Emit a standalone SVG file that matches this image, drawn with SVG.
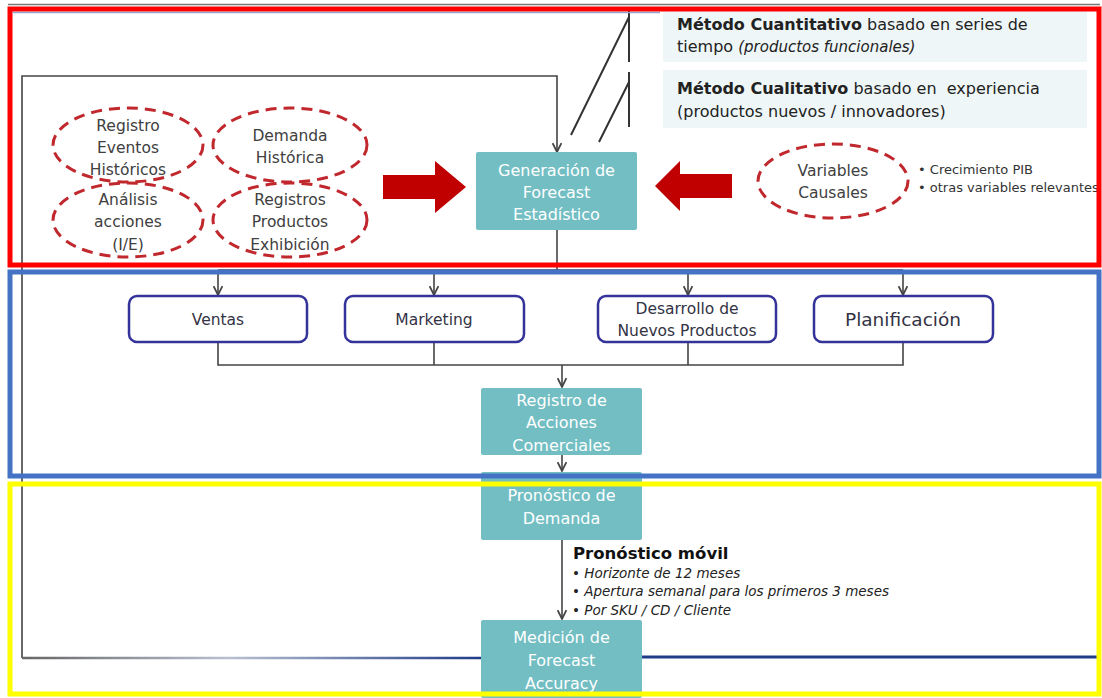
<svg xmlns="http://www.w3.org/2000/svg" width="1102" height="698" viewBox="0 0 1102 698">
<style>
.t{font-family:"DejaVu Sans","Verdana",sans-serif;}
.el{fill:none;stroke:#C0282D;stroke-width:3;stroke-dasharray:11 7;}
.et{font-size:15.5px;fill:#404040;text-anchor:middle;}
.wb{fill:#fff;stroke:#333399;stroke-width:2.5;}
.wt{font-size:15.5px;fill:#333344;text-anchor:middle;}
.tb{fill:#72BEC3;}
.tt{font-size:16px;fill:#fff;text-anchor:middle;}
.mb{fill:#EEF6F7;}
.mt{font-size:16px;fill:#222;}
.cn{fill:none;stroke:#444;stroke-width:1.6;}
.dg{fill:none;stroke:#333;stroke-width:2;}
.ra{fill:#C00000;}
.fr{fill:none;stroke-width:5;}
</style>
<defs>
<marker id="ah" viewBox="0 0 10 10" refX="9" refY="5" markerWidth="11" markerHeight="11" markerUnits="userSpaceOnUse" orient="auto">
<path d="M1,1 L9,5 L1,9" fill="none" stroke="#444" stroke-width="1.6"/>
</marker>
<linearGradient id="bg" gradientUnits="userSpaceOnUse" x1="22" y1="0" x2="481" y2="0">
<stop offset="0" stop-color="#666"/>
<stop offset="0.45" stop-color="#b8c0d0"/>
<stop offset="1" stop-color="#1F3C88"/>
</linearGradient>
</defs>
<rect width="1102" height="698" fill="#fff"/>

<g id="connectors">
<path class="cn" d="M22,658 L22,76 L557,76 L557,152" marker-end="url(#ah)"/>
<line x1="22" y1="658" x2="481" y2="658" stroke="url(#bg)" stroke-width="2.5"/>
<line x1="642" y1="657" x2="1097" y2="657" stroke="#1F3C88" stroke-width="3"/>
<path class="cn" d="M557,230 L557,270"/>
<path class="cn" d="M218,270 L903,270"/>
<path class="cn" d="M218,270 L218,295" marker-end="url(#ah)"/>
<path class="cn" d="M434,270 L434,295" marker-end="url(#ah)"/>
<path class="cn" d="M688,270 L688,295" marker-end="url(#ah)"/>
<path class="cn" d="M903,270 L903,295" marker-end="url(#ah)"/>
<path class="cn" d="M218,342 L218,365 L903,365 L903,342"/>
<path class="cn" d="M434,342 L434,365"/>
<path class="cn" d="M688,342 L688,365"/>
<path class="cn" d="M562,365 L562,387" marker-end="url(#ah)"/>
<path class="cn" d="M562,455 L562,471" marker-end="url(#ah)"/>
<path class="cn" d="M562,540 L562,619" marker-end="url(#ah)"/>
<path class="dg" d="M571,135 L629,17 M629,10 L629,62 M599,142 L629,82 M629,72 L629,127"/>
</g>

<g id="metodo-cuantitativo">
<rect class="mb" x="663" y="10" width="424" height="52"/>
<text class="t mt" x="677" y="30"><tspan font-weight="bold">Método Cuantitativo</tspan> basado en series de</text>
<text class="t mt" x="677" y="52">tiempo <tspan font-style="italic" style="font-size:15px">(productos funcionales)</tspan></text>
</g>
<g id="metodo-cualitativo">
<rect class="mb" x="663" y="70" width="424" height="58"/>
<text class="t mt" x="677" y="94" style="white-space:pre"><tspan font-weight="bold">Método Cualitativo</tspan> basado en  experiencia</text>
<text class="t mt" x="677" y="117">(productos nuevos / innovadores)</text>
</g>

<g id="registro-eventos">
<ellipse class="el" cx="128" cy="145" rx="75" ry="37"/>
<text class="t et" x="128" y="131">Registro</text>
<text class="t et" x="128" y="153">Eventos</text>
<text class="t et" x="128" y="175">Históricos</text>
</g>
<g id="demanda-historica">
<ellipse class="el" cx="290" cy="145" rx="77" ry="37"/>
<text class="t et" x="290" y="141">Demanda</text>
<text class="t et" x="290" y="163">Histórica</text>
</g>
<g id="analisis-acciones">
<ellipse class="el" cx="128" cy="220" rx="75" ry="37"/>
<text class="t et" x="128" y="205">Análisis</text>
<text class="t et" x="128" y="227">acciones</text>
<text class="t et" x="128" y="250">(I/E)</text>
</g>
<g id="registros-productos">
<ellipse class="el" cx="290" cy="220" rx="77" ry="37"/>
<text class="t et" x="290" y="205">Registros</text>
<text class="t et" x="290" y="227">Productos</text>
<text class="t et" x="290" y="250">Exhibición</text>
</g>

<g id="arrow-left-input">
<polygon class="ra" points="383,175 435,175 435,161 466,187 435,213 435,199 383,199"/>
</g>
<g id="arrow-right-input">
<polygon class="ra" points="732,174 680,174 680,161 655,186 680,211 680,198 732,198"/>
</g>

<g id="generacion-forecast">
<rect class="tb" x="476" y="152" width="161" height="78" rx="2"/>
<text class="t tt" x="556.5" y="176">Generación de</text>
<text class="t tt" x="556.5" y="198">Forecast</text>
<text class="t tt" x="556.5" y="220">Estadístico</text>
</g>

<g id="variables-causales">
<ellipse class="el" cx="833" cy="181" rx="75" ry="37"/>
<text class="t et" x="833" y="176">Variables</text>
<text class="t et" x="833" y="198">Causales</text>
<text class="t" x="918" y="174" style="font-size:13px" fill="#333">• Crecimiento PIB</text>
<text class="t" x="918" y="192" style="font-size:13px" fill="#333">• otras variables relevantes</text>
</g>

<g id="ventas">
<rect class="wb" x="129" y="296" width="178" height="46" rx="8"/>
<text class="t wt" x="218" y="325">Ventas</text>
</g>
<g id="marketing">
<rect class="wb" x="345" y="296" width="179" height="46" rx="8"/>
<text class="t wt" x="434" y="325">Marketing</text>
</g>
<g id="desarrollo">
<rect class="wb" x="598" y="296" width="178" height="46" rx="8"/>
<text class="t wt" x="687" y="314">Desarrollo de</text>
<text class="t wt" x="687" y="336">Nuevos Productos</text>
</g>
<g id="planificacion">
<rect class="wb" x="814" y="296" width="179" height="46" rx="8"/>
<text class="t wt" x="903" y="326" style="font-size:18.5px">Planificación</text>
</g>

<g id="registro-acciones">
<rect class="tb" x="481" y="388" width="161" height="67" rx="2"/>
<text class="t tt" x="561.5" y="406">Registro de</text>
<text class="t tt" x="561.5" y="428">Acciones</text>
<text class="t tt" x="561.5" y="451">Comerciales</text>
</g>
<g id="pronostico-demanda">
<rect class="tb" x="481" y="472" width="161" height="68" rx="2"/>
<text class="t tt" x="561.5" y="501">Pronóstico de</text>
<text class="t tt" x="561.5" y="524">Demanda</text>
</g>
<g id="medicion-forecast">
<rect class="tb" x="481" y="620" width="161" height="78" rx="2"/>
<text class="t tt" x="561.5" y="643">Medición de</text>
<text class="t tt" x="561.5" y="666">Forecast</text>
<text class="t tt" x="561.5" y="689">Accuracy</text>
</g>

<g id="pronostico-movil">
<text class="t" x="573" y="559" style="font-size:16.5px" font-weight="bold" fill="#111">Pronóstico móvil</text>
<text class="t" x="572" y="578" style="font-size:13.5px" font-style="italic" fill="#222">• Horizonte de 12 meses</text>
<text class="t" x="572" y="596" style="font-size:13.5px" font-style="italic" fill="#222">• Apertura semanal para los primeros 3 meses</text>
<text class="t" x="572" y="615" style="font-size:13.5px" font-style="italic" fill="#222">• Por SKU / CD / Cliente</text>
</g>

<g id="frames">
<line x1="8" y1="4.5" x2="1100" y2="4.5" stroke="#777" stroke-width="1.5"/>
<line x1="13" y1="12.5" x2="660" y2="12.5" stroke="#8FA6D0" stroke-width="1.5"/>
<rect class="fr" x="10" y="9" width="1089" height="256" stroke="#FF0000"/>
<rect class="fr" x="10" y="272" width="1089" height="204" stroke="#4472C4"/>
<rect class="fr" x="10" y="484" width="1089" height="210" stroke="#FFFF00"/>
</g>
</svg>
